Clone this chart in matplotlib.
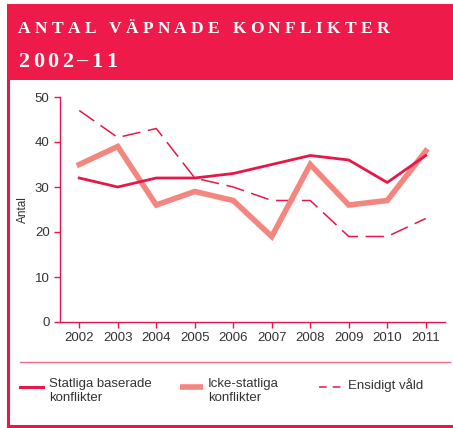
import matplotlib

matplotlib.use("Agg")
import matplotlib.pyplot as plt
from matplotlib.lines import Line2D
from matplotlib.patches import Rectangle


years = [2002, 2003, 2004, 2005, 2006, 2007, 2008, 2009, 2010, 2011]
statliga = [32, 30, 32, 32, 33, 35, 37, 36, 31, 37]
icke_statliga = [35, 39, 26, 29, 27, 19, 35, 26, 27, 38]
ensidigt = [47, 41, 43, 32, 30, 27, 27, 19, 19, 23]

title_line1 = "ANTAL VÄPNADE KONFLIKTER"
title_line2 = "2002–11"
legend_labels = ["Statliga baserade\nkonflikter", "Icke-statliga\nkonflikter", "Ensidigt våld"]

RED = "#E8174A"
HEADER = "#EE1A4A"
SALMON = "#F4867F"
TEXT = "#333333"

W, H = 453, 428

plt.rcParams["font.family"] = ["Liberation Sans", "DejaVu Sans"]

fig = plt.figure(figsize=(W / 100, H / 100), dpi=100)


def px(x, y):
    # pixel coords (top-left origin) -> figure fraction
    return x / W, 1 - y / H


# header band
fig.patches.append(Rectangle(px(7, 80), (W - 7) / W, 76 / H, transform=fig.transFigure,
                             facecolor=HEADER, edgecolor="none", zorder=0))
# frame: left and bottom
fig.add_artist(Line2D([8 / W, 8 / W], [1 - 80 / H, 1 - 426 / H], color=RED, lw=2.2))
fig.add_artist(Line2D([8 / W, 1], [1 - 426 / H, 1 - 426 / H], color=RED, lw=2.2))
# separator above legend
fig.add_artist(Line2D([20 / W, 450 / W], [1 - 362 / H, 1 - 362 / H], color="#EE6A85", lw=1.0))


def spaced_text(text, x, y, size, tracking):
    # draw characters one at a time to get wide letter spacing
    renderer = fig.canvas.get_renderer()
    cur = x
    for ch in text:
        t = fig.text(cur / W, 1 - y / H, ch, fontsize=size, fontweight="bold",
                     family=["Liberation Serif", "DejaVu Serif"], color="white",
                     va="baseline", ha="left")
        w = t.get_window_extent(renderer).width
        if ch == " ":
            w = size * 0.35
        cur += w + tracking


spaced_text(title_line1, 18, 33, 12.5, 4.3)
spaced_text(title_line2, 18, 67, 16, 3.5)

ax = fig.add_axes([60 / W, 1 - 322 / H, (445 - 60) / W, (322 - 97) / H])
ax.plot(years, ensidigt, color=RED, lw=1.1, dashes=(12, 5), zorder=2)
ax.plot(years, icke_statliga, color=SALMON, lw=4.0, solid_joinstyle="miter", zorder=3)
ax.plot(years, statliga, color=RED, lw=2.0, zorder=4)

ax.set_xlim(2001.5, 2011.5)
ax.set_ylim(0, 50)
ax.set_xticks(years)
ax.set_yticks(range(0, 51, 10))
for side in ["top", "right"]:
    ax.spines[side].set_visible(False)
for side in ["left", "bottom"]:
    ax.spines[side].set_color(RED)
    ax.spines[side].set_linewidth(1.0)
ax.tick_params(colors=RED, labelcolor=TEXT, labelsize=9.5, length=4, width=1.0)
ax.set_ylabel("Antal", fontsize=8.5, color=TEXT)
ax.yaxis.set_label_coords(-0.08, 0.5)

# legend drawn by hand
leg_y = 387
samples = [
    (20, 43, dict(color=RED, lw=2.2), 49),
    (180, 203, dict(color=SALMON, lw=4.0, solid_capstyle="butt"), 208),
    (319, 342, dict(color=RED, lw=1.1, dashes=(5, 4)), 348),
]
for (x0, x1, style, tx), label in zip(samples, legend_labels):
    fig.add_artist(Line2D([x0 / W, x1 / W], [1 - leg_y / H] * 2, **style))
    fig.text(tx / W, 1 - 378 / H, label, fontsize=9.5, color=TEXT, va="top", ha="left",
             linespacing=1.25)

fig.savefig("out.png", dpi=100)
